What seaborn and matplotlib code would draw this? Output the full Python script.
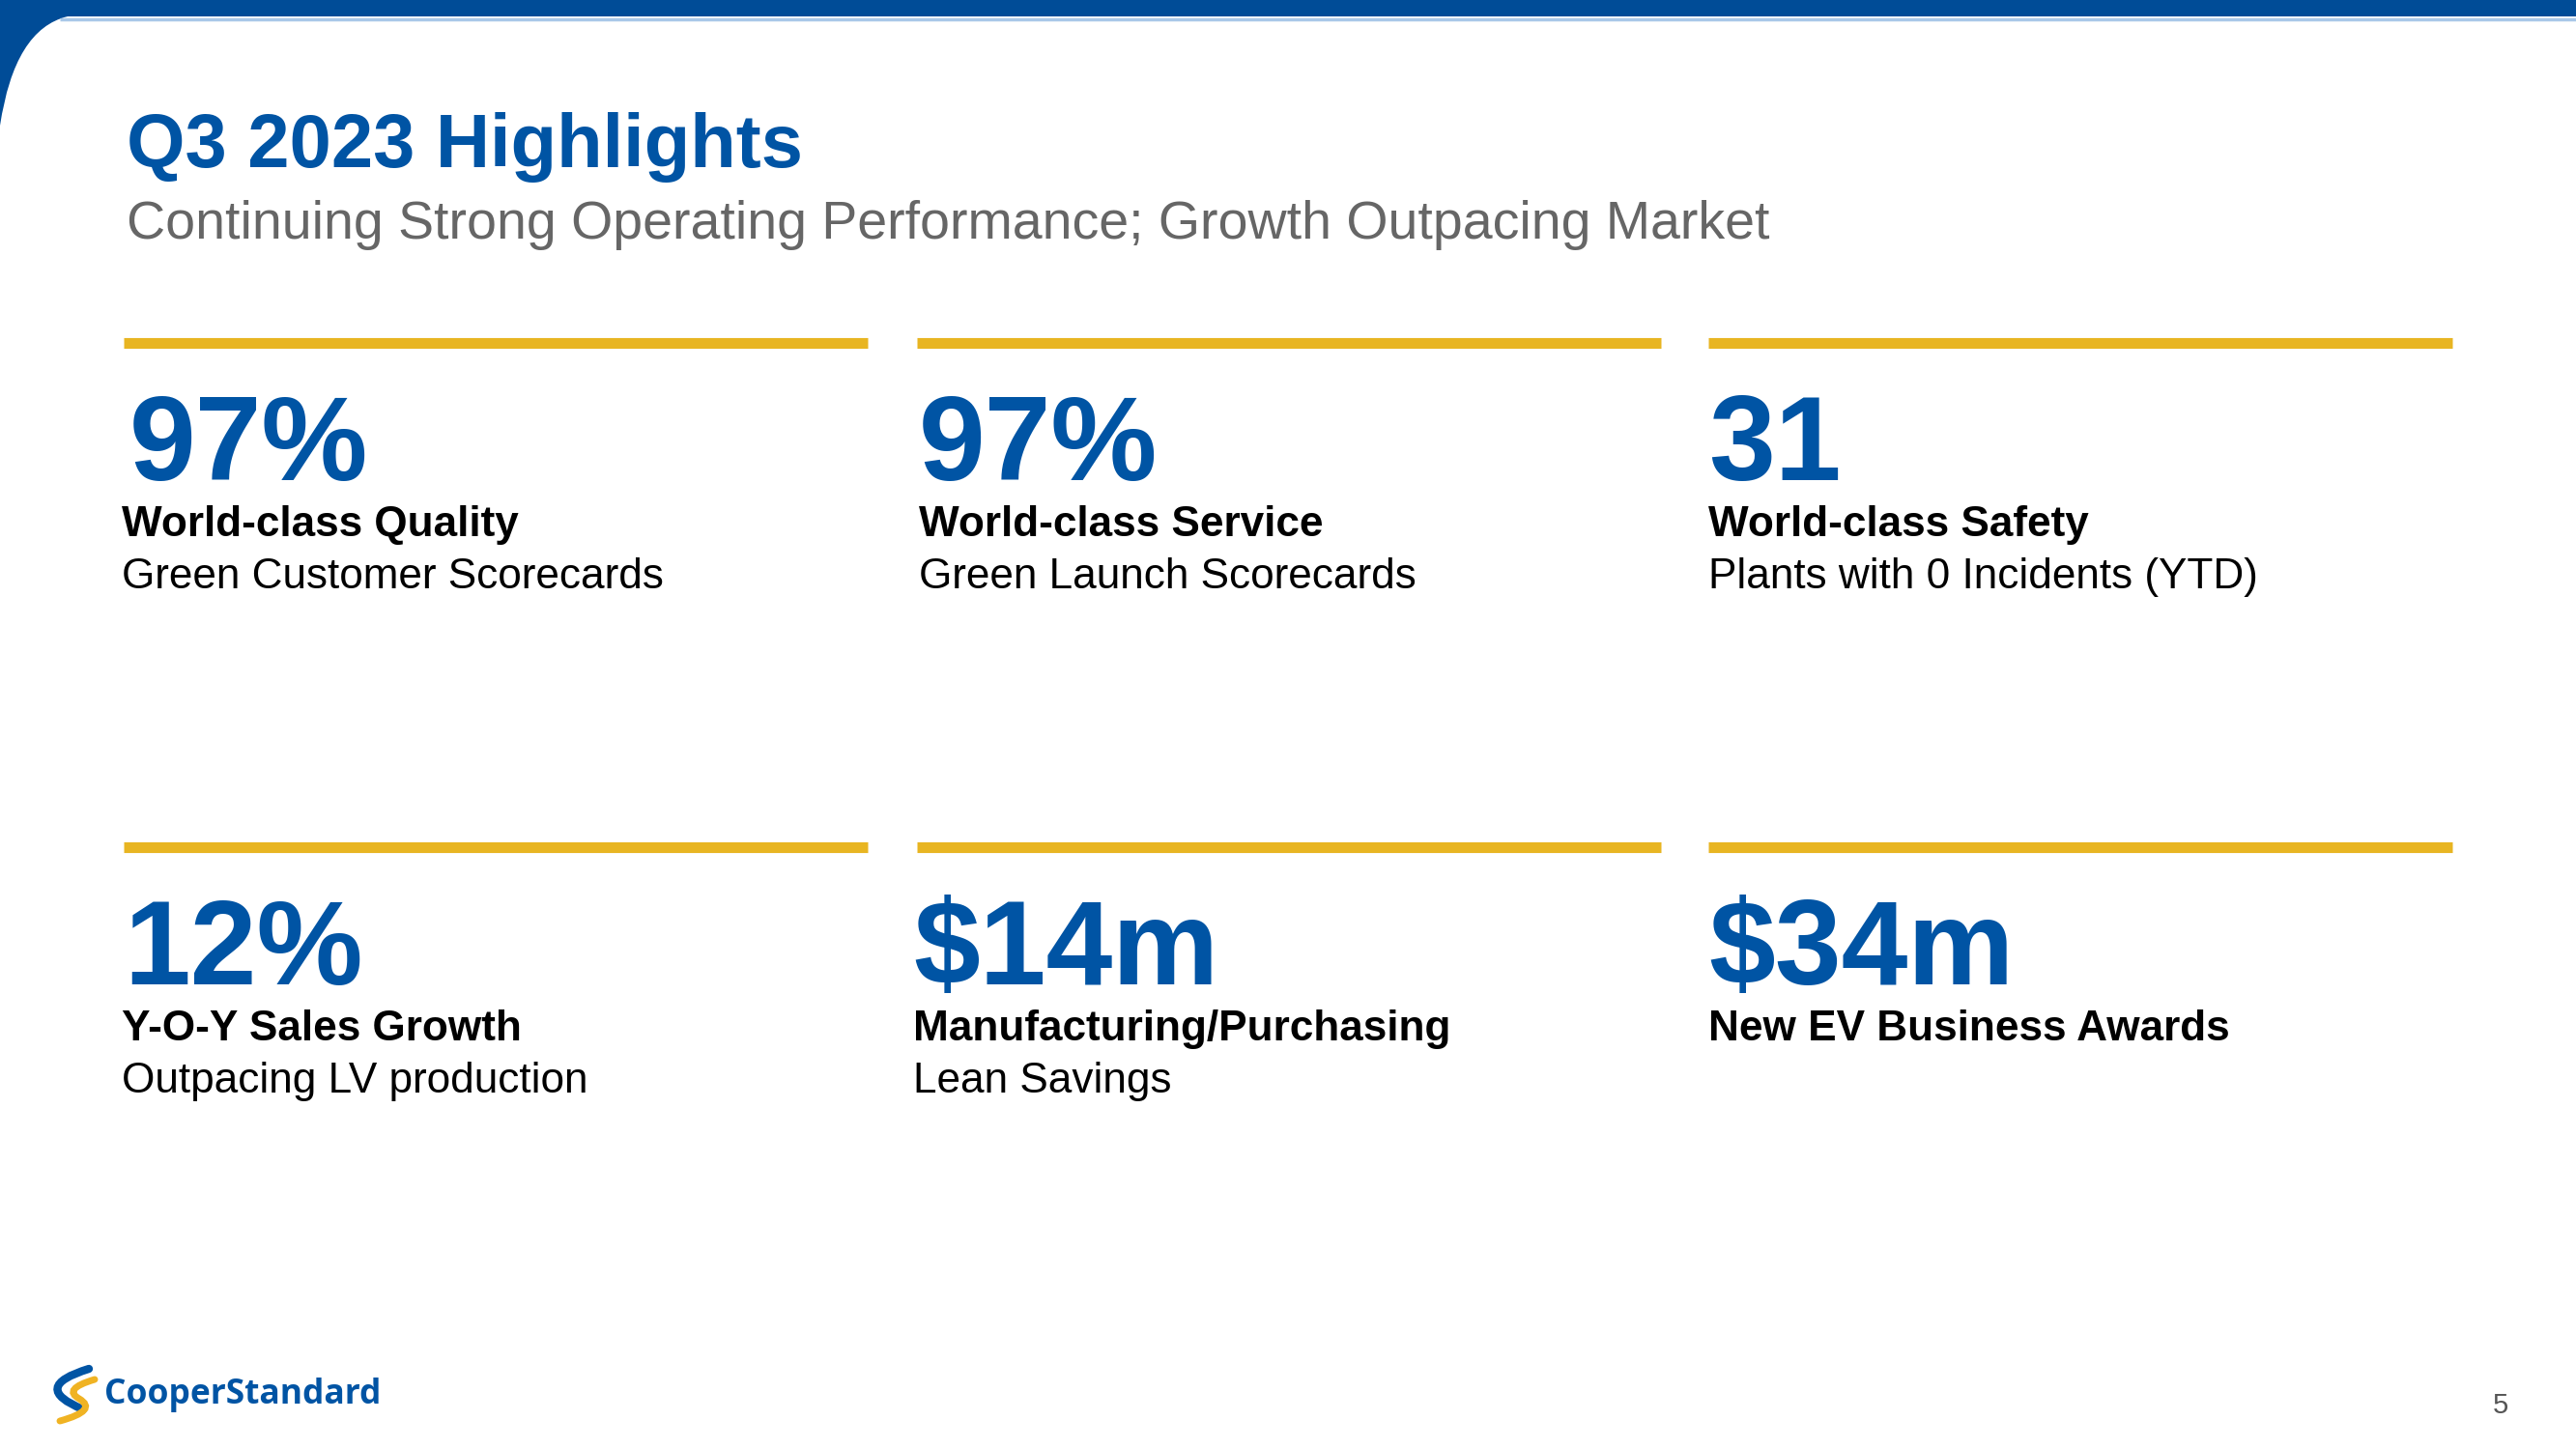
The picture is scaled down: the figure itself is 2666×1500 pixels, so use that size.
import matplotlib.pyplot as plt
import seaborn as sns
from matplotlib.path import Path
from matplotlib.patches import PathPatch

sns.set_theme(style="white")
plt.rcParams['font.family'] = ['Liberation Sans', 'DejaVu Sans']

# slide content
title = "Q3 2023 Highlights"
subtitle = "Continuing Strong Operating Performance; Growth Outpacing Market"
values = ["97%", "97%", "31", "12%", "$14m", "$34m"]
headings = ["World-class Quality", "World-class Service", "World-class Safety",
            "Y-O-Y Sales Growth", "Manufacturing/Purchasing", "New EV Business Awards"]
details = ["Green Customer Scorecards", "Green Launch Scorecards", "Plants with 0 Incidents (YTD)",
           "Outpacing LV production", "Lean Savings", ""]
page_no = "5"

BLUE = "#0054a4"
GOLD = "#e8b522"
W, H = 2666, 1500

fig = plt.figure(figsize=(W / 100, H / 100), dpi=100)
ax = fig.add_axes([0, 0, 1, 1])
ax.set_xlim(0, W)
ax.set_ylim(H, 0)
ax.axis("off")

# top band with rounded corner on the left
verts = [(0, 0), (W, 0), (W, 17), (70, 17), (15, 30), (0, 130), (0, 0)]
codes = [Path.MOVETO, Path.LINETO, Path.LINETO, Path.LINETO, Path.CURVE3, Path.CURVE3, Path.CLOSEPOLY]
ax.add_patch(PathPatch(Path(verts, codes), facecolor="#004c97", edgecolor="none"))
ax.plot([62, W], [19.5, 19.5], color="#a9c8e8", lw=2.5, solid_capstyle="butt")

ax.text(131, 173, title, fontsize=56, fontweight="bold", color=BLUE, va="baseline")
ax.text(131, 247, subtitle, fontsize=40, color="#666666", va="baseline")

bar_x = [128, 949, 1768]
num_x = [[134, 951, 1768], [128, 945, 1768]]
lab_x = [[126, 951, 1768], [126, 945, 1768]]
bar_w = 770
row_y = [0, 522]

for i, (val, head, det) in enumerate(zip(values, headings, details)):
    c, r = i % 3, i // 3
    dy = row_y[r]
    ax.hlines(355 + dy, bar_x[c], bar_x[c] + bar_w, color=GOLD, lw=8)
    ax.text(num_x[r][c], 497 + dy, val, fontsize=89, fontweight="bold",
            color=BLUE, va="baseline")
    ax.text(lab_x[r][c], 555 + dy, head, fontsize=31.8, fontweight="bold",
            color="black", va="baseline")
    ax.text(lab_x[r][c], 609 + dy, det, fontsize=31.8, color="black", va="baseline")

# logo
blue_arc = Path([(92, 1417), (30, 1436), (86, 1459)], [Path.MOVETO, Path.CURVE3, Path.CURVE3])
gold_s = Path([(98, 1428), (64, 1438), (82, 1448), (102, 1460), (62, 1471)],
              [Path.MOVETO, Path.CURVE3, Path.CURVE3, Path.CURVE3, Path.CURVE3])
ax.add_patch(PathPatch(blue_arc, facecolor="none", edgecolor=BLUE, lw=6, capstyle="round"))
ax.add_patch(PathPatch(gold_s, facecolor="none", edgecolor="#f0b323", lw=5, capstyle="round"))
ax.text(108, 1453, "CooperStandard", fontsize=25.5, fontweight="bold", color=BLUE,
        va="baseline", family=["Open Sans", "DejaVu Sans"])

ax.text(2588, 1463, page_no, fontsize=21, color="#555555", va="baseline", ha="center")

fig.savefig("out.png", dpi=100)
